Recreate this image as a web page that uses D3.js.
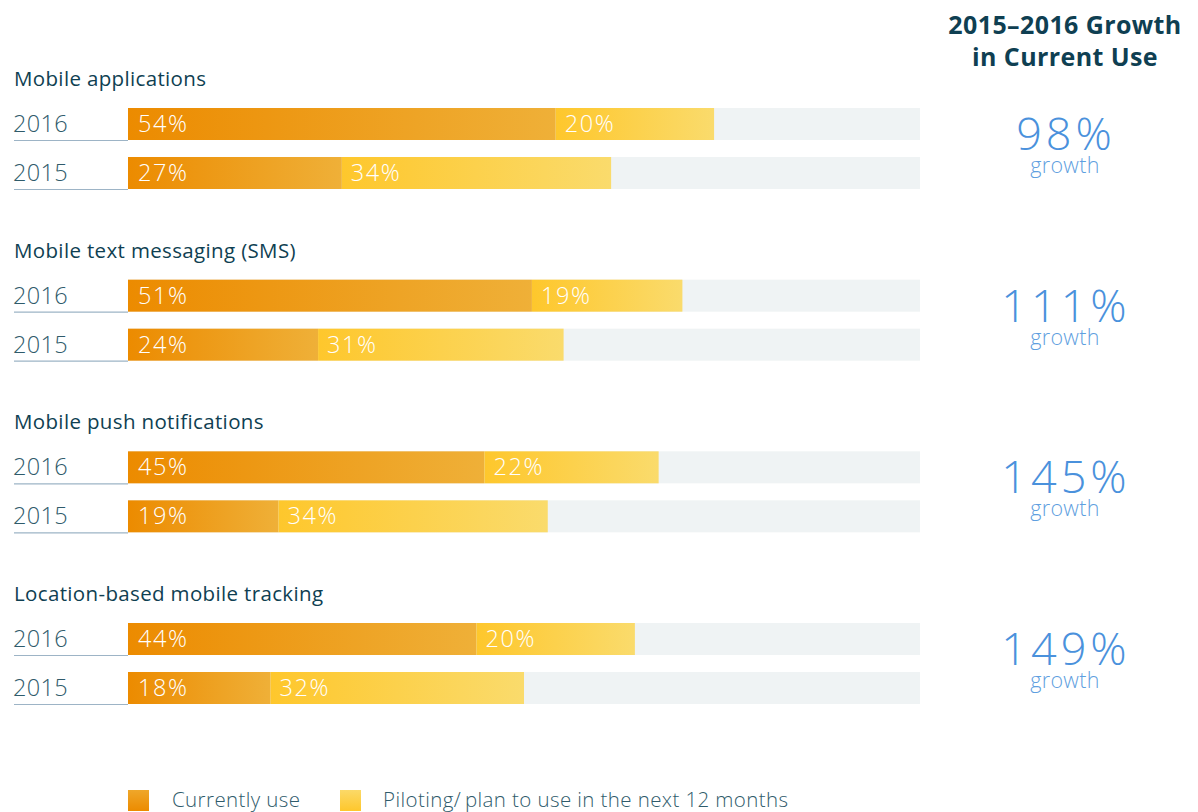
<!DOCTYPE html>
<html><head><meta charset="utf-8">
<script src="https://cdn.jsdelivr.net/npm/d3@7"></script>
<style>
body{margin:0;background:#fff;}
svg{display:block;font-family:"Open Sans",Lato,sans-serif;}
</style></head>
<body><svg id="c" width="1198" height="812"></svg>
<script>
const categories = ["Mobile applications","Mobile text messaging (SMS)","Mobile push notifications","Location-based mobile tracking"];
const years = ["2016","2015"];
const current2016 = [54,51,45,44];
const piloting2016 = [20,19,22,20];
const current2015 = [27,24,19,18];
const piloting2015 = [34,31,34,32];
const growth = ["98%","111%","145%","149%"];
const legendLabels = ["Currently use","Piloting/\u2009plan to use in the next 12 months"];

const svg = d3.select("#c");
const defs = svg.append("defs");
function grad(id, c1, c2){
  const g = defs.append("linearGradient").attr("id",id).attr("x1","0%").attr("x2","100%").attr("y1","0%").attr("y2","0%");
  g.append("stop").attr("offset","0%").attr("stop-color",c1);
  g.append("stop").attr("offset","100%").attr("stop-color",c2);
}
grad("gCur","#ec8b00","#efb038");
grad("gPil","#fec72c","#fadb6c");
const lg1 = defs.append("linearGradient").attr("id","lCur").attr("x1","0").attr("x2","0").attr("y1","0").attr("y2","1");
lg1.append("stop").attr("offset","0%").attr("stop-color","#efa72a");
lg1.append("stop").attr("offset","100%").attr("stop-color","#ec8b00");
const lg2 = defs.append("linearGradient").attr("id","lPil").attr("x1","0").attr("x2","0").attr("y1","0").attr("y2","1");
lg2.append("stop").attr("offset","0%").attr("stop-color","#fbd968");
lg2.append("stop").attr("offset","100%").attr("stop-color","#fec72c");

const x = d3.scaleLinear().domain([0,100]).range([128,920]);
const groupY = d3.scalePoint().domain(categories).range([108,623]);
const yearY = d3.scalePoint().domain(years).range([0,49]);
const barH = 32;

const data = categories.map((c,i)=>({cat:c, rows:[
  {year:"2016", cur:current2016[i], pil:piloting2016[i]},
  {year:"2015", cur:current2015[i], pil:piloting2015[i]}
], growth:growth[i]}));

const titleColor = "#0f3f52";
const g = svg.selectAll("g.grp").data(data).join("g").attr("class","grp")
  .attr("transform",d=>`translate(0,${groupY(d.cat)})`);

g.append("text").attr("x",14).attr("y",-22).attr("font-size",20.5).attr("letter-spacing",0.35).attr("fill",titleColor)
  .text(d=>d.cat);

const row = g.selectAll("g.row").data(d=>d.rows).join("g").attr("class","row")
  .attr("transform",r=>`translate(0,${yearY(r.year)})`);

row.append("rect").attr("x",x(0)).attr("y",0).attr("width",x(100)-x(0)).attr("height",barH).attr("fill","#eff3f4");
row.append("line").attr("x1",14).attr("x2",x(0)).attr("y1",barH+0.5).attr("y2",barH+0.5)
  .attr("stroke","#9db4c6").attr("stroke-width",1.2);
row.append("text").attr("x",13).attr("y",barH-8).attr("font-size",23.5).attr("letter-spacing",0.3).attr("font-weight",300)
  .attr("fill","#2f5b6b").text(r=>r.year);
row.append("rect").attr("x",x(0)).attr("y",0).attr("width",r=>x(r.cur)-x(0)).attr("height",barH).attr("fill","url(#gCur)");
row.append("rect").attr("x",r=>x(r.cur)).attr("y",0).attr("width",r=>x(r.cur+r.pil)-x(r.cur)).attr("height",barH).attr("fill","url(#gPil)");
row.append("text").attr("x",x(0)+10).attr("y",barH-8).attr("font-size",23.5).attr("letter-spacing",1.6).attr("font-weight",300)
  .attr("fill","#fff").text(r=>r.cur+"%");
row.append("text").attr("x",r=>x(r.cur)+9).attr("y",barH-8).attr("font-size",23.5).attr("letter-spacing",1.6).attr("font-weight",300)
  .attr("fill","#fff").text(r=>r.pil+"%");

g.append("text").attr("x",1066).attr("y",42).attr("text-anchor","middle").attr("font-size",45).attr("letter-spacing",4).attr("font-weight",300)
  .attr("fill","#4a91dc").text(d=>d.growth);
g.append("text").attr("x",1065).attr("y",65).attr("text-anchor","middle").attr("font-size",21.5).attr("letter-spacing",0.3).attr("font-weight",300)
  .attr("fill","#5f9fe0").text("growth");

const hdr = svg.append("text").attr("text-anchor","middle").attr("font-size",25).attr("letter-spacing",0.4).attr("font-weight",700).attr("fill","#0f3f52");
hdr.append("tspan").attr("x",1065).attr("y",34).text("2015\u20132016 Growth");
hdr.append("tspan").attr("x",1065).attr("y",66).text("in Current Use");

const legX = [128,340];
const lgd = svg.selectAll("g.lg").data(legendLabels).join("g").attr("class","lg")
  .attr("transform",(d,i)=>`translate(${legX[i]},790)`);
lgd.append("rect").attr("width",21).attr("height",21).attr("fill",(d,i)=>i===0?"url(#lCur)":"url(#lPil)");
lgd.append("text").attr("x",(d,i)=>i===0?44:43).attr("y",17).attr("font-size",20.5).attr("letter-spacing",0.4).attr("font-weight",300)
  .attr("fill","#2f5b6b").text(d=>d);
</script></body></html>
